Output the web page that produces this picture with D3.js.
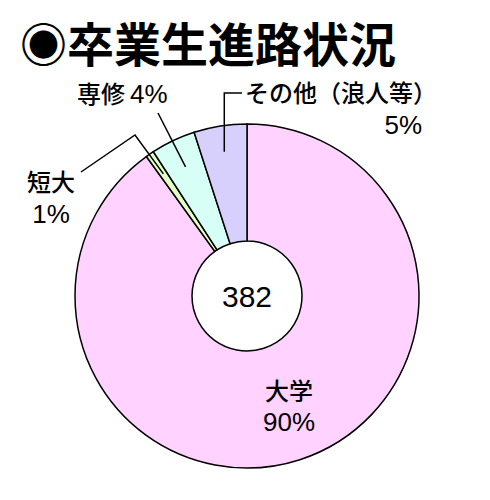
<!DOCTYPE html>
<html>
<head>
<meta charset="utf-8">
<script src="https://cdn.jsdelivr.net/npm/d3@7"></script>
<style>
  body { margin: 0; background: #fff; }
  text { font-family: "Noto Sans CJK JP", "Noto Sans", sans-serif; fill: #000; }
  .num { font-family: "Liberation Sans", Arial, sans-serif; font-weight: normal; }
</style>
</head>
<body>
<script>
// data
var categories = ["大学", "短大", "専修", "その他（浪人等）"];
var counts = [344, 3, 16, 19];
var percents = ["90%", "1%", "4%", "5%"];
var colours = ["#ffd2ff", "#e2ffc4", "#d8fff6", "#d8d0fc"];
var total = 382;

var width = 490, height = 500;
var cx = 247, cy = 296, outerR = 172, innerR = 55;
var jpSize = 24, numSize = 26;

var svg = d3.select("body")
  .append("svg")
    .attr("width", width)
    .attr("height", height);

// title
svg.append("text")
  .attr("x", 20)
  .attr("y", 62)
  .attr("font-size", 47)
  .attr("font-weight", "bold")
  .text("◉卒業生進路状況");

var pie = d3.pie().sort(null).value(function(d) { return d; });
var arcs = pie(counts);

var arc = d3.arc().innerRadius(innerR).outerRadius(outerR);

var g = svg.append("g")
  .attr("transform", "translate(" + cx + "," + cy + ")");

g.selectAll("path")
  .data(arcs)
  .enter()
    .append("path")
      .attr("d", arc)
      .attr("fill", function(d, i) { return colours[i]; })
      .attr("stroke", "#000")
      .attr("stroke-width", 1.5);

// point inside a slice at radius r, in page coords
function pointAt(d, r) {
  var a = (d.startAngle + d.endAngle) / 2;
  return [cx + r * Math.sin(a), cy - r * Math.cos(a)];
}

// centre number
g.append("text")
  .attr("class", "num")
  .attr("text-anchor", "middle")
  .attr("dy", "0.36em")
  .attr("font-size", 30)
  .text(total);

var lines = svg.append("g")
  .attr("fill", "none")
  .attr("stroke", "#000")
  .attr("stroke-width", 1.5);

// 短大 leader
var p1 = pointAt(arcs[1], 148);
lines.append("path")
  .attr("d", d3.line()([[81, 172], [135, 135], p1]));

// 専修 leader
var p2 = pointAt(arcs[2], 143);
lines.append("path")
  .attr("d", d3.line()([[158, 113], p2]));

// その他 leader
var p3 = pointAt(arcs[3], 146);
lines.append("path")
  .attr("d", d3.line()([[242, 93], [p3[0], 93], p3]));

// labels
function label(anchor) {
  return svg.append("text")
    .attr("text-anchor", anchor)
    .attr("font-weight", 500);
}

var senLabel = label("start").attr("x", 77).attr("y", 103);
senLabel.append("tspan").attr("font-size", jpSize).text(categories[2]);
senLabel.append("tspan").attr("class", "num").attr("font-size", numSize)
  .attr("dx", 5).text(percents[2]);

label("start").attr("x", 245).attr("y", 102)
  .attr("font-size", jpSize).text(categories[3]);
label("end").attr("class", "num").attr("x", 422).attr("y", 134)
  .attr("font-size", numSize).text(percents[3]);

label("middle").attr("x", 51).attr("y", 191)
  .attr("font-size", jpSize).text(categories[1]);
label("middle").attr("class", "num").attr("x", 51).attr("y", 223)
  .attr("font-size", numSize).text(percents[1]);

label("middle").attr("x", 289).attr("y", 400)
  .attr("font-size", jpSize).text(categories[0]);
label("middle").attr("class", "num").attr("x", 289).attr("y", 431)
  .attr("font-size", numSize).text(percents[0]);
</script>
</body>
</html>
